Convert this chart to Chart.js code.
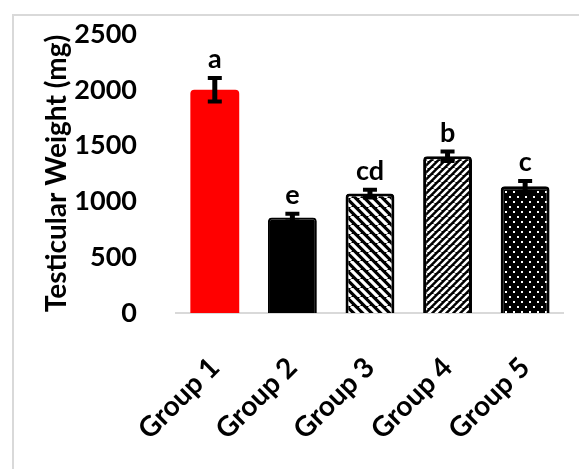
<!DOCTYPE html>
<html>
<head>
<meta charset="utf-8">
<script src="https://cdn.jsdelivr.net/npm/chart.js@4.4.0/dist/chart.umd.min.js"></script>
<style>
  html, body { margin: 0; padding: 0; background: #fff; overflow: hidden; }
  #frame { position: absolute; left: 12px; top: 14px; width: 700px; height: 600px; border: 2px solid #d9d9d9; }
  #wrap { position: absolute; left: 0; top: 0; width: 579px; height: 469px; }
</style>
</head>
<body>
<div id="frame"></div>
<div id="wrap"><canvas id="chart"></canvas></div>
<script>
// data
const groups = ["Group 1", "Group 2", "Group 3", "Group 4", "Group 5"];
const weights = [2000, 855, 1070, 1405, 1135];
const errors = [105, 35, 35, 42, 48];
const letters = ["a", "e", "cd", "b", "c"];
const yTicks = [0, 500, 1000, 1500, 2000, 2500];

const FONT = "Lato, 'Open Sans', sans-serif";

// fill patterns like the excel ones
function stripes(size, dir) {
  const c = document.createElement("canvas");
  c.width = size; c.height = size;
  const g = c.getContext("2d");
  g.fillStyle = "#000";
  g.fillRect(0, 0, size, size);
  g.strokeStyle = "#fff";
  g.lineWidth = size * 0.36;
  g.beginPath();
  for (let k = -1; k <= 1; k++) {
    if (dir === "down") { g.moveTo(k * size, 0); g.lineTo(k * size + size, size); }
    else { g.moveTo(k * size, size); g.lineTo(k * size + size, 0); }
  }
  g.stroke();
  return g.createPattern(c, "repeat");
}

function dots() {
  const c = document.createElement("canvas");
  c.width = 8; c.height = 10;
  const g = c.getContext("2d");
  g.fillStyle = "#000";
  g.fillRect(0, 0, 8, 10);
  g.fillStyle = "#fff";
  g.fillRect(1, 1, 2, 2);
  g.fillRect(5, 6, 2, 2);
  return g.createPattern(c, "repeat");
}

const fills = ["#ff0000", "#000000", stripes(9, "down"), stripes(7, "up"), dots()];

// error bars + significance letters
const errorBars = {
  id: "errorBars",
  afterDatasetsDraw(chart) {
    const ctx = chart.ctx;
    const y = chart.scales.y;
    const meta = chart.getDatasetMeta(0);
    ctx.save();
    ctx.strokeStyle = "#000";
    ctx.fillStyle = "#000";
    meta.data.forEach((bar, i) => {
      const top = y.getPixelForValue(weights[i] + errors[i]);
      const bot = y.getPixelForValue(weights[i] - errors[i]);
      ctx.lineWidth = 5;
      ctx.beginPath();
      ctx.moveTo(bar.x, top);
      ctx.lineTo(bar.x, bot);
      ctx.stroke();
      ctx.lineWidth = 4;
      ctx.beginPath();
      ctx.moveTo(bar.x - 7, top); ctx.lineTo(bar.x + 7, top);
      ctx.moveTo(bar.x - 7, bot); ctx.lineTo(bar.x + 7, bot);
      ctx.stroke();
      ctx.font = "bold 27px " + FONT;
      ctx.textAlign = "center";
      ctx.textBaseline = "alphabetic";
      ctx.fillText(letters[i], bar.x, top - 10);
    });
    ctx.restore();
  }
};

new Chart(document.getElementById("chart"), {
  type: "bar",
  data: {
    labels: groups,
    datasets: [{
      data: weights,
      backgroundColor: fills,
      borderColor: ["#ff0000", "#000", "#000", "#000", "#000"],
      borderWidth: [0, 2, 3, 3, 3],
      borderRadius: 4,
      categoryPercentage: 1,
      barPercentage: 0.63
    }]
  },
  options: {
    responsive: true,
    maintainAspectRatio: false,
    animation: false,
    layout: { padding: { top: 34, right: 1, bottom: 0, left: 0 } },
    plugins: { legend: { display: false }, tooltip: { enabled: false } },
    scales: {
      x: {
        grid: { display: false },
        border: { display: true, color: "#d9d9d9", width: 2 },
        ticks: {
          color: "#000",
          font: { family: FONT, size: 28, weight: "bold" },
          minRotation: 45,
          maxRotation: 45,
          autoSkip: false,
          padding: 30
        },
        afterFit: (s) => { s.height = 156; }
      },
      y: {
        min: 0,
        max: 2500,
        afterBuildTicks: (s) => { s.ticks = yTicks.map(v => ({ value: v })); },
        grid: { display: false },
        border: { display: false },
        ticks: {
          color: "#000",
          font: { family: FONT, size: 27, weight: "bold" },
          padding: 31,
          callback: (v) => String(v)
        },
        title: {
          display: true,
          text: "Testicular Weight (mg)",
          color: "#000",
          font: { family: FONT, size: 28, weight: "bold" },
          padding: { top: 40, bottom: 0 }
        },
        afterFit: (s) => {
          s.width = 176;
          s.paddingTop = 16;
          s.paddingBottom = 16;
        }
      }
    }
  },
  plugins: [errorBars]
});
</script>
</body>
</html>
